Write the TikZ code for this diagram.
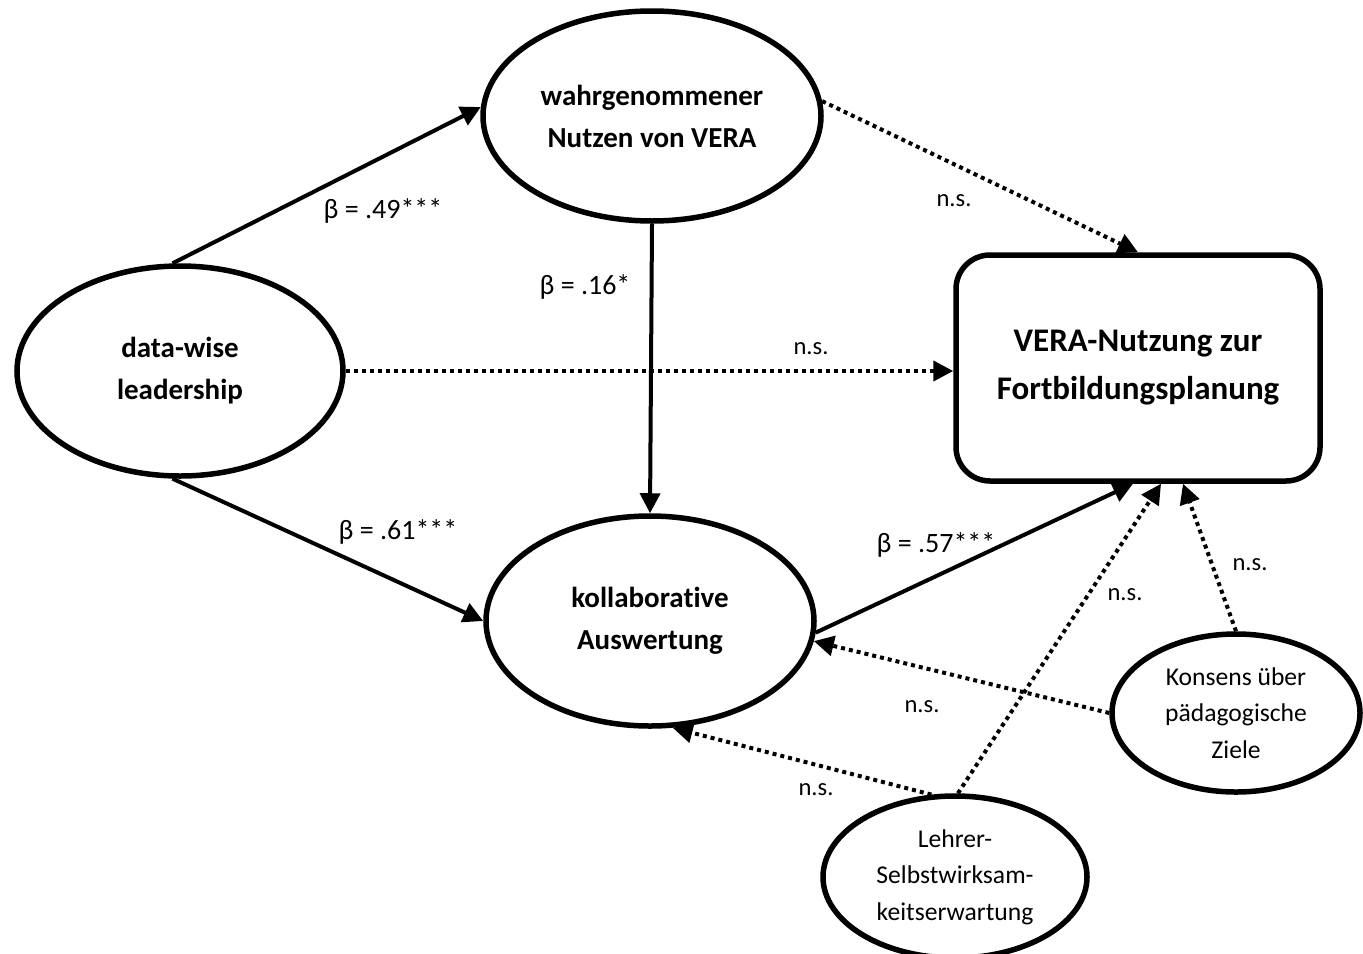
\documentclass[tikz,border=0pt]{standalone}
\usepackage{fontspec}
\setmainfont{Carlito}[Ligatures=NoCommon]
\usetikzlibrary{arrows.meta,shapes.geometric}

\tikzset{
  latent/.style={ellipse, draw, line width=2.75pt, align=center, inner sep=0pt,
    font=\bfseries\fontsize{14.5}{21}\selectfont},
  context/.style={ellipse, draw, line width=2.75pt, align=center, inner sep=0pt,
    font=\fontsize{12.8}{18.3}\selectfont},
  outcome/.style={rectangle, rounded corners=17pt, draw, line width=2.75pt, align=center,
    minimum width=182pt, minimum height=113pt, font=\bfseries\fontsize{16.5}{24}\selectfont},
  effect/.style={line width=2pt, -{Triangle[length=10pt,width=10pt]}},
  nseffect/.style={effect, dash pattern=on 2pt off 2pt},
  coef/.style={font=\fontsize{14}{16}\selectfont, inner sep=0pt},
  nslab/.style={font=\fontsize{12.3}{14}\selectfont, inner sep=0pt}
}

\begin{document}
\begin{tikzpicture}[x=0.5pt,y=-0.5pt]
  \useasboundingbox (0,0) rectangle (1363,953);

  \node[latent, minimum width=163pt, minimum height=105pt] (dw) at (180,371) {data-wise\\leadership};
  \node[latent, minimum width=169pt, minimum height=105pt] (wn) at (652,116) {wahrgenommener\\Nutzen von VERA};
  \node[latent, minimum width=164pt, minimum height=105pt] (ka) at (650,621) {kollaborative\\Auswertung};
  \node[outcome] (vera) at (1138,368) {VERA-Nutzung zur\\Fortbildungsplanung};
  \node[context, minimum width=124pt, minimum height=79pt] (ko) at (1236,713) {Konsens über\\pädagogische\\Ziele};
  \node[context, minimum width=132pt, minimum height=81pt] (le) at (955,877) {Lehrer-\\Selbstwirksam-\\keitserwartung};

  \draw[effect] (dw.94) -- (wn.177);
  \draw[effect] (wn.south) -- (ka.north);
  \draw[effect] (dw.-94) -- (ka.west);
  \draw[effect] (ka.-4) -- ([xshift=-2.5pt]vera.south);
  \draw[nseffect] (dw.east) -- (dw.east -| vera.west);
  \draw[nseffect] (wn.5) -- (vera.north);
  \draw[nseffect] (le.88) -- ([xshift=11.5pt]vera.south);
  \draw[nseffect] (ko.north) -- ([xshift=22.5pt]vera.south);
  \draw[nseffect] (ko.west) -- (ka.-7);
  \draw[nseffect] (le.106) -- (ka.-78);

  \node[coef] (b49) at (383,211) {β = .49***};
  \node[coef] (b16) at (585,287) {β = .16*};
  \node[coef] (b61) at (398,532) {β = .61***};
  \node[coef] (b57) at (936,545) {β = .57***};
  \node[nslab] (ns1) at (811,349) {n.s.};
  \node[nslab] (ns2) at (954,201) {n.s.};
  \node[nslab] (ns3) at (1250,565) {n.s.};
  \node[nslab] (ns4) at (1125,595) {n.s.};
  \node[nslab] (ns5) at (922,707) {n.s.};
  \node[nslab] (ns6) at (816,790) {n.s.};
\end{tikzpicture}
\end{document}
